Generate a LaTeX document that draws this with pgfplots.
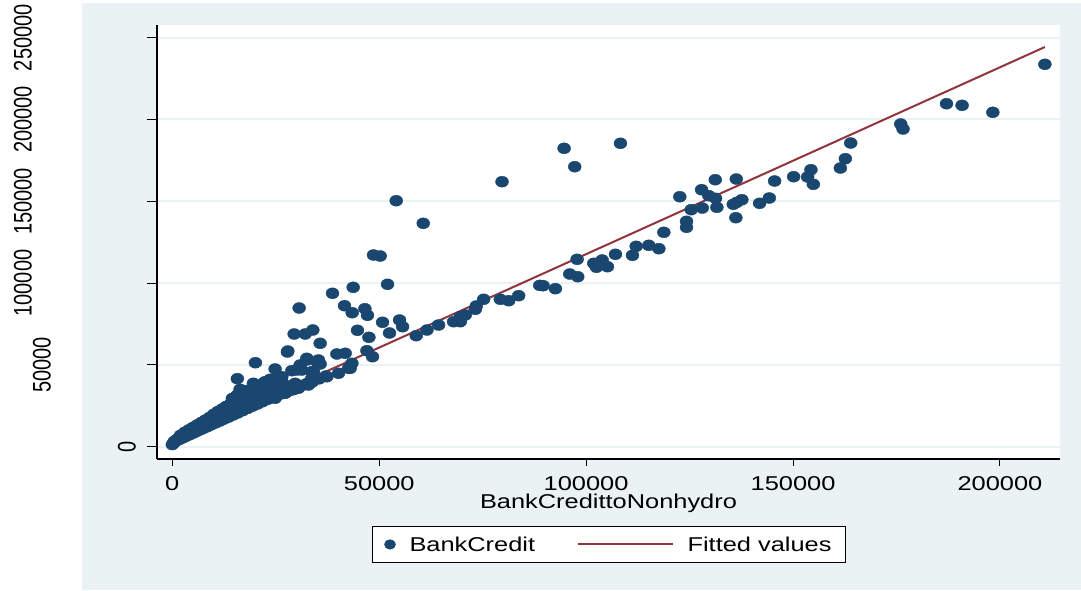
\documentclass[border=0pt]{standalone}
\usepackage{pgfplots}
\usepackage{pgfplotstable}
\pgfplotsset{compat=1.18}
\usepackage{fontspec}
\setmainfont{Liberation Sans}[FakeStretch=1.27]
\newfontfamily\uprightsans{Liberation Sans}

\definecolor{bgc}{RGB}{234,242,243}
\definecolor{navy}{RGB}{26,71,111}
\definecolor{maroon}{RGB}{144,53,59}

% BankCredittoNonhydro (x) against BankCredit (y)
\pgfplotstableread{
x y
0 1300
300 2200
700 3200
1200 3900
1800 4600
2400 5300
3000 6000
3700 6800
4400 7600
5200 8500
6000 9500
6800 10400
7700 11400
8600 12400
9500 13500
10500 14600
11500 15700
12500 16900
13600 18100
14700 19400
15800 20600
17000 22000
18200 23400
19400 24800
20600 26100
21800 27500
23000 28900
24200 30200
25400 31600
26600 32400
27800 33700
29000 35000
30200 36200
31400 37500
33800 39500
35500 41500
500 3300
1000 4200
1500 5100
2100 6100
2700 7000
3300 7900
4000 8900
4700 9900
5500 11000
6300 12100
7100 13200
8000 14400
8900 15600
9800 16800
10800 18100
11800 19400
12800 20700
13900 22100
15000 23600
16100 25000
17300 26500
18500 28000
19700 29500
20900 31000
22100 32500
23300 34000
24500 35500
2000 7000
3000 8800
4000 10300
5000 11800
6000 13300
7000 14800
8000 16300
9000 17900
10000 19800
11000 21500
12000 23000
13000 24600
14000 26000
15000 28200
16000 30000
17000 31500
18000 33500
19000 34500
20000 35500
21000 36500
22000 38000
23000 39500
24000 40500
25000 41500
15580 31300
14500 29500
16800 33000
18000 34350
21210 36370
23630 40460
26850 38440
25250 34660
29460 35080
32900 37710
34110 40770
37110 43210
32660 38750
37350 42780
40160 44860
42990 47920
28880 46450
31300 46880
33720 45840
42580 47920
43400 50970
20000 36670
22420 39730
18380 32640
21620 31600
24840 29580
27260 32640
29680 38750
24040 40770
26460 42780
16380 35080
17590 33620
22010 38750
23630 41190
26050 40770
19600 38750
30480 35690
28880 34660
15720 41560
20080 51340
24840 47490
27820 57880
29440 68880
32100 68880
33960 71330
35730 63200
30650 84770
39770 56660
41780 57090
47030 58680
48380 55010
32510 52990
34930 51950
35730 50550
30890 49940
30090 46880
34110 45840
33720 41810
27910 58490
32510 54030
35320 52990
38710 93760
41610 86180
43470 81900
46540 84350
47170 80310
43710 97420
52010 99260
48620 117170
50240 116550
54110 150350
60640 136540
50800 76030
54910 77440
55640 73340
44750 71140
47510 66860
52490 69490
58950 67840
61540 71330
64350 74380
67970 76400
69600 79460
69600 76400
70800 80500
73220 83970
73460 86000
75230 90090
79270 90090
81280 89240
83700 92300
88800 98600
89600 98410
92580 96580
96040 105550
97980 103900
97830 114530
101850 112090
102500 109650
103870 114110
105160 110020
107090 117590
111200 116980
112100 122480
115140 123090
117580 121020
118780 131040
79680 161970
94680 182380
97250 171130
108300 185440
122640 152800
124260 137760
124260 134090
125400 144860
127900 157080
128070 145890
129660 153410
131210 163190
131280 151820
131600 146320
135560 148150
136430 149380
137640 150970
136190 139960
136290 163620
141920 148760
144270 152010
145550 162400
150150 165020
153530 164840
154330 169300
154910 160380
161440 170340
162650 176030
163940 185620
176030 197230
176590 194180
187090 209640
190860 208660
198290 204380
210860 233720
}\credit

\begin{document}
\fontsize{10bp}{12bp}\selectfont
\begin{tikzpicture}
\useasboundingbox (0,0) rectangle (540.5bp,295.5bp);
\fill[bgc] (41bp,0.5bp) rectangle (540.5bp,294bp);
\begin{axis}[
  at={(78.5bp,66bp)}, anchor=south west,
  scale only axis, width=451.5bp, height=217bp,
  xmin=-3700, xmax=214520, ymin=-7520, ymax=257760,
  axis x line*=bottom, axis y line*=left,
  axis line style={-, black, line width=0.6bp},
  axis background/.style={fill=white},
  tick align=outside, major tick length=5bp,
  tick style={black, line width=0.5bp},
  xtick style={/pgfplots/major tick length=3.5bp},
  scaled ticks=false,
  xtick={0,50000,100000,150000,200000},
  xticklabels={\textrm{0},\textrm{50000},\textrm{100000},\textrm{150000},\textrm{200000}},
  xticklabel style={inner sep=0pt, anchor=north, yshift=-3.5bp},
  ytick={0,50000,100000,150000,200000,250000},
  yticklabels={},
  ymajorgrids, grid style={bgc, line width=1bp},
  xlabel={BankCredittoNonhydro},
  xlabel style={at={(axis description cs:0.5,-0.1129)}, anchor=base, inner sep=0pt},
  clip=false,
  legend columns=2, legend cell align=left,
  legend style={at={(0.2381,-0.1544)}, anchor=north west, draw=black,
    line width=0.5bp, fill=white, inner xsep=7bp, inner ysep=5.35bp,
    nodes={inner sep=0pt, text depth=0pt}, /tikz/column sep=0pt},
]
\addplot[only marks, mark=*, mark size=2.75bp,
  mark options={draw=navy, fill=navy, xscale=1.18, line width=0.2bp},
  legend image code/.code={
    \path (-1.5bp,0bp) (9.5bp,0bp);
    \draw[overlay, mark=*, mark size=2.3bp, mark options={draw=navy, fill=navy, xscale=1.15}]
      plot coordinates {(0bp,0bp)};}]
  table[x=x, y=y] {\credit};
\addlegendentry{BankCredit}
\addplot[maroon, line width=1bp, no marks,
  legend image code/.code={
    \path (0bp,0bp) (75.2bp,0bp);
    \draw[maroon, line width=1bp] (20.7bp,0bp) -- (68.2bp,0bp);}]
  coordinates {(100,3600) (210860,244300)};
\addlegendentry{Fitted values}

% rotated y tick labels
\begin{scope}[font=\uprightsans]
\node[xscale=1.27, rotate=90, inner sep=0pt] at ([xshift=-15bp]axis cs:-3700,0) {0};
\node[xscale=1.27, rotate=90, inner sep=0pt] at ([xshift=-57.5bp]axis cs:-3700,50000) {50000};
\node[xscale=1.27, rotate=90, inner sep=0pt] at ([xshift=-67bp]axis cs:-3700,100000) {100000};
\node[xscale=1.27, rotate=90, inner sep=0pt] at ([xshift=-67bp]axis cs:-3700,150000) {150000};
\node[xscale=1.27, rotate=90, inner sep=0pt] at ([xshift=-67bp]axis cs:-3700,200000) {200000};
\node[xscale=1.27, rotate=90, inner sep=0pt] at ([xshift=-67bp]axis cs:-3700,250000) {250000};
\end{scope}
\end{axis}
\end{tikzpicture}
\end{document}
